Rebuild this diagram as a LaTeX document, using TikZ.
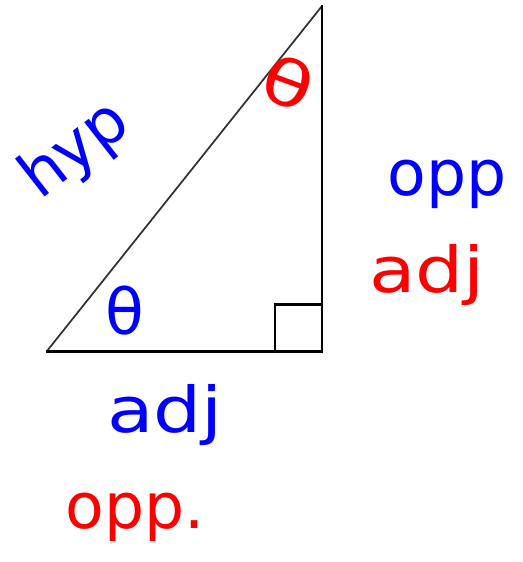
\documentclass[tikz,border=0pt]{standalone}
\usepackage{fontspec}
\setmainfont{DejaVu Sans}
\usetikzlibrary{positioning}

\begin{document}
\begin{tikzpicture}[
    x=0.02cm, y=-0.02cm,
    leg line/.style={line width=1.7pt, line cap=rect},
    hyp line/.style={line width=1pt, draw=black!80},
    blue label/.style={text=blue, font=\fontsize{36}{40}\selectfont, inner sep=0pt},
    red label/.style={text=red, font=\fontsize{36}{40}\selectfont, inner sep=0pt}
]
    \useasboundingbox (0, 0) rectangle (523, 562);

    % Triangle corners
    \coordinate (A) at (47, 351);
    \coordinate (B) at (322, 351);
    \coordinate (C) at (322, 6);
    \draw[hyp line] (A) -- (C);
    \draw[leg line] (A) -- (B) -- (C);
    \draw[leg line] (275, 351) |- (322, 304);

    % Angle labels
    \node[blue label] (thetaA) at (125, 311) {θ};
    \node[red label, rotate=-20, xscale=1.3] (thetaC) at (288, 83) {θ};

    % Side labels
    \node[blue label, rotate=38] (hyp) at (76, 151) {hyp};
    \node[blue label, anchor=base] (oppB) at (447, 195) {opp};
    \node[red label, anchor=base, xscale=1.2] (adjR) at (427, 292) {adj};
    \node[blue label, anchor=base, xscale=1.2] (adjB) at (165, 432) {adj};
    \node[red label, anchor=base] (oppR) at (135, 528) {opp.};

\end{tikzpicture}
\end{document}
